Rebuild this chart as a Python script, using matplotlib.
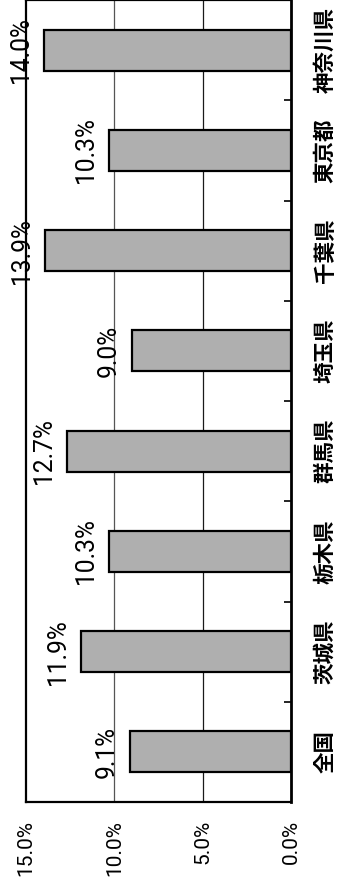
import matplotlib
matplotlib.use("Agg")
import matplotlib.pyplot as plt
from matplotlib.ticker import FixedLocator
import warnings
warnings.filterwarnings("ignore")

# data
categories = ["全国", "茨城県", "栃木県", "群馬県", "埼玉県", "千葉県", "東京都", "神奈川県"]
values = [9.1, 11.9, 10.3, 12.7, 9.0, 13.9, 10.3, 14.0]
value_ticks = [0, 5, 10, 15]
value_tick_labels = ["0.0%", "5.0%", "10.0%", "15.0%"]
grid_values = [5, 10]

W, H = 337, 882
DPI = 100
fig = plt.figure(figsize=(W / DPI, H / DPI), dpi=DPI)
fig.patch.set_facecolor("white")

x0, x1 = 26, 291          # 15% edge, 0% axis (pixels)
y_top, y_bot = 0, 802     # plot area (pixels from top)
ax = fig.add_axes([x0 / W, (H - y_bot) / H, (x1 - x0) / W, (y_bot - y_top) / H])

num_font = ["Roboto", "Liberation Sans", "DejaVu Sans"]
jp_font = ["Noto Sans CJK JP", "DejaVu Sans"]

pos = list(range(len(categories)))
ax.barh(pos, values, height=0.41, color="#afafaf", edgecolor="black",
        linewidth=1.6, zorder=3)

for g, c in zip(grid_values, ["#1a1a1a", "#555555"]):
    ax.axvline(g, color=c, linewidth=0.9, zorder=1)

ax.set_xlim(15, 0)
ax.set_ylim(-0.5, len(categories) - 0.5)

# value axis along the bottom
ax.set_xticks(value_ticks)
ax.set_xticklabels(value_tick_labels, rotation=90, family=num_font, fontsize=15)
ax.tick_params(axis="x", length=0, pad=13)

# category axis along the right edge
ax.yaxis.tick_right()
ax.set_yticks(pos)
ax.set_yticklabels(categories, rotation=90, family=jp_font, fontsize=15.5,
                   fontweight="bold", va="center")
ax.yaxis.set_minor_locator(FixedLocator([p + 0.5 for p in pos[:-1]]))
ax.tick_params(axis="y", which="major", length=0, pad=17)
ax.tick_params(axis="y", which="minor", direction="in", length=5, width=1.2,
               color="black")

for side in ["left", "top", "bottom"]:
    ax.spines[side].set_linestyle((0, (1, 1)))
    ax.spines[side].set_linewidth(1.6)
ax.spines["right"].set_linewidth(2.0)

# value labels beside the bar ends
for p, v in zip(pos, values):
    ax.annotate(f"{v:.1f}%", xy=(v, p), xytext=(-8, 0),
                textcoords="offset points", rotation=90, ha="right",
                va="center", family=num_font, fontsize=17.7, zorder=4)

fig.savefig("out.png", dpi=DPI)
